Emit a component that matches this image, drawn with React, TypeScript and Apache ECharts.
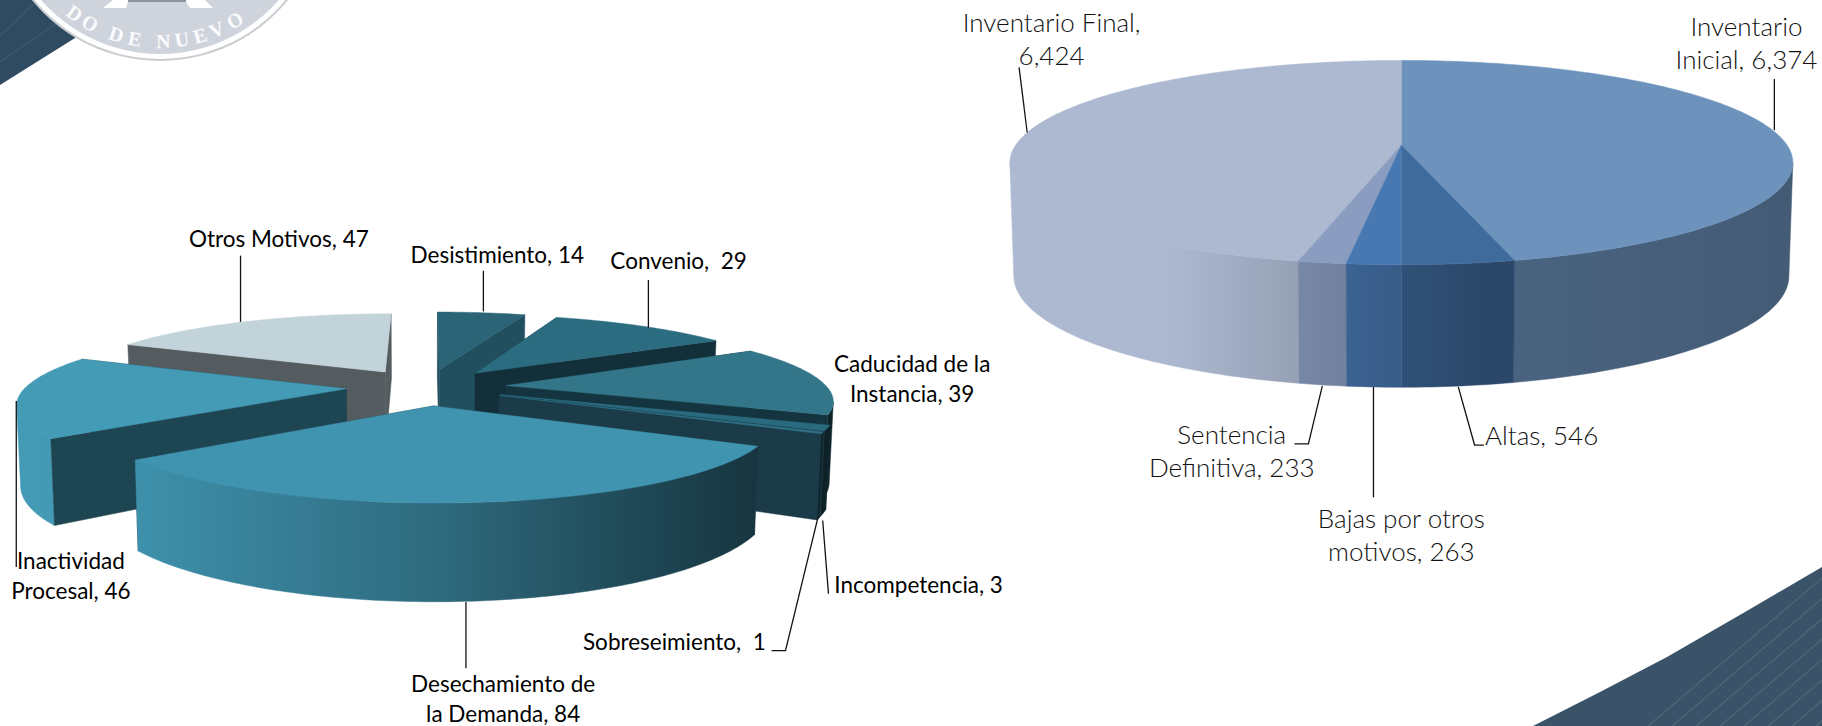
import React, { useEffect, useRef } from "react";
import * as echarts from "echarts";

const W = 1822;
const H = 726;
const S = 1822 / 1568;

// ---- data: left chart
const leftNames = ["Desistimiento", "Convenio", "Caducidad de la\nInstancia", "Incompetencia", "Sobreseimiento", "Desechamiento de\nla Demanda", "Inactividad\nProcesal", "Otros Motivos"];
const leftValues = [14, 29, 39, 3, 1, 84, 46, 47];
const leftTop = ["#2b6477", "#2c6c80", "#337689", "#2a6a7e", "#2f7186", "#4094b0", "#449bb6", "#c3d3da"];
const leftCut = ["#214f5e", "#132f39", "#143540", "#1a3b47", "#1a3b47", "#1b3c48", "#1e4652", "#555c60"];

// ---- data: right chart
const rightNames = ["Inventario\nInicial", "Altas", "Bajas por otros\nmotivos", "Sentencia\nDefinitiva", "Inventario Final"];
const rightValues = [6374, 546, 263, 233, 6424];
const rightTop = ["#6d93bd", "#3f6a9c", "#4878b2", "#8a9dc0", "#adb9d1"];

// ---- styling / layout
const leftPie = { cx: 367 * S, cy: 333 * S, rx: 276 * S, ry: 62.8 * S, k: 0.172, e: 0.25, d: 66.7 * S, p: 1, x0: 12 * S, x1: 720 * S, stops: [[0, 1], [0.15, 0.97], [0.5, 0.73], [0.88, 0.38], [1, 0.3]] };
const rightPie = { cx: 1206 * S, cy: 125 * S, rx: 332 * S, ry: 85.4 * S, k: 0.17, e: 0, d: 96 * S, p: 0.5, x0: 870 * S, x1: 1543 * S, stops: [[0, 1], [0.2, 1], [0.35, 0.88], [0.45, 0.8], [0.6, 0.68], [1, 0.62]] };

const leftFont = { fontFamily: "Lato", fontSize: 22.5, fill: "#000" };
const rightFont = { fontFamily: "Lato", fontWeight: 300, fontSize: 26, fill: "#111" };

function shade(hex: string, f: number) {
  const n = parseInt(hex.slice(1), 16);
  const c = [(n >> 16) & 255, (n >> 8) & 255, n & 255].map((v) => Math.round(v * f));
  return `rgb(${c[0]},${c[1]},${c[2]})`;
}

function buildSlices(values: number[]) {
  const total = values.reduce((a, b) => a + b, 0);
  let acc = 0;
  const out = values.map((v, i) => {
    const a = (acc / total) * 360;
    acc += v;
    const b = (acc / total) * 360;
    return { i, v, a, b, mid: (a + b) / 2 };
  });
  return out.sort((p, q) => -Math.cos((p.mid * Math.PI) / 180) + Math.cos((q.mid * Math.PI) / 180));
}

function pieSeries(values: number[], names: string[], tops: string[], cuts: string[] | null, g: any) {
  const slices = buildSlices(values);
  const total = values.reduce((a, b) => a + b, 0);
  const rad = Math.PI / 180;
  const proj = (u: number, v: number, low: boolean) => {
    const w = 1 - g.k * v;
    if (!low) return [g.cx + (g.rx * u) / w, g.cy + (g.ry * v) / w];
    return [g.cx + ((g.rx * u) / w) * 0.99, g.cy + (g.ry * v) / w + g.d / Math.pow(w, g.p)];
  };
  return {
    type: "custom",
    coordinateSystem: "none",
    silent: true,
    z: 2,
    data: slices.map((s) => ({ name: names[s.i], value: [s.v, s.a, s.i] })),
    renderItem: (_params: any, api: any) => {
      const value = api.value(0) as number;
      const a = api.value(1) as number;
      const idx = api.value(2) as number;
      const b = a + (value / total) * 360;
      const mid = ((a + b) / 2) * rad;
      const ou = g.e * Math.sin(mid);
      const ov = -g.e * Math.cos(mid);
      const rimPoint = (t: number, low: boolean) => proj(ou + Math.sin(t * rad), ov - Math.cos(t * rad), low);
      const angles: number[] = [];
      const n = Math.max(2, Math.ceil((b - a) / 1));
      for (let j = 0; j <= n; j++) angles.push(a + ((b - a) * j) / n);

      const top = tops[idx];
      const cut = cuts ? cuts[idx] : top;
      const children: any[] = [];
      const add = (points: number[][], fill: any) =>
        children.push({ type: "polygon", shape: { points }, style: { fill, stroke: fill, lineWidth: 0.5 } });
      const cutFace = (t: number) => add([proj(ou, ov, false), rimPoint(t, false), rimPoint(t, true), proj(ou, ov, true)], cut);

      const startVisible = Math.sin(a * rad) < 0;
      const endVisible = Math.sin(b * rad) > 0;
      if (g.e > 0) {
        if (!startVisible) cutFace(a);
        if (!endVisible) cutFace(b);
      }
      // a rim point shows when its outward normal faces the camera of the perspective
      const front = angles.filter((t) => {
        const u = Math.sin(t * rad);
        const v = -Math.cos(t * rad);
        return v / g.k - 1 - ou * u - ov * v > 0;
      });
      if (front.length > 1) {
        const stops = g.stops.map((st: number[]) => ({ offset: st[0], color: shade(top, st[1]) }));
        const fill = new echarts.graphic.LinearGradient(g.x0, 0, g.x1, 0, stops, true);
        add([...front.map((t) => rimPoint(t, false)), ...front.slice().reverse().map((t) => rimPoint(t, true))], fill);
      }
      if (g.e > 0) {
        if (startVisible) cutFace(a);
        if (endVisible) cutFace(b);
      }
      add([proj(ou, ov, false), ...angles.map((t) => rimPoint(t, false))], top);
      return { type: "group", children };
    },
  };
}

const num = (v: number) => v.toLocaleString("en-US");

function label(text: string, x: number, y: number, font: any, align = "center", lineHeight = 30) {
  return { type: "text", z: 20, x: x * S, y: y * S, style: { text, align, verticalAlign: "middle", lineHeight, ...font } };
}
function leader(pts: number[][]) {
  return { type: "polyline", z: 20, shape: { points: pts.map((p) => [p[0] * S, p[1] * S]) }, style: { stroke: "#111", lineWidth: 1.3, fill: "none" } };
}

function labelElements() {
  const L = (i: number, sep = ", ") => `${leftNames[i]}${sep}${num(leftValues[i])}`;
  const R = (i: number, sep = ", ") => `${rightNames[i]}${sep}${num(rightValues[i])}`;
  return [
    label(L(7), 240, 205, leftFont), leader([[207, 220], [207, 277]]),
    label(L(0), 428, 219, leftFont), leader([[416, 233], [416, 268]]),
    label(L(1, ",  "), 584, 224, leftFont), leader([[558, 241], [558, 282]]),
    label(L(2), 785, 326, leftFont),
    label(L(3), 718, 503, leftFont, "left"), leader([[708, 448], [713, 511]]),
    label(L(4, ",  "), 659, 552, leftFont, "right"), leader([[664, 560], [676, 560], [704, 445]]),
    label(L(5), 433, 601, leftFont), leader([[401, 518], [401, 575]]),
    label(L(6), 61, 495, leftFont), leader([[14, 345], [14, 488]]),
    label(`${rightNames[4]},\n${num(rightValues[4])}`, 905, 33, rightFont, "center", 33), leader([[877, 58], [884, 114]]),
    label(R(0), 1503, 37, rightFont, "center", 33), leader([[1527, 68], [1527, 112]]),
    label(R(3), 1060, 388, rightFont, "center", 33), leader([[1138, 332], [1126, 382], [1114, 382]]),
    label(R(2), 1206, 460, rightFont, "center", 33), leader([[1182, 333], [1182, 428]]),
    label(R(1), 1278, 374, rightFont, "left"), leader([[1255, 333], [1269, 383], [1277, 383]]),
  ];
}

// ---- decoration
const sealLetters = ["D", "O", "D", "E", "N", "U", "E", "V", "O"];
const sealAngles = [36, 28.8, 17.5, 10, -1.3, -8.7, -16, -23, -31];
const bandEdge = [[1533, 726], [1600, 692], [1667, 657], [1745, 612], [1822, 567]];

function edgeY(x: number) {
  for (let i = 1; i < bandEdge.length; i++) {
    const [x0, y0] = bandEdge[i - 1];
    const [x1, y1] = bandEdge[i];
    if (x <= x1) return y0 + ((y1 - y0) * (x - x0)) / (x1 - x0);
  }
  return 567;
}

function decoration() {
  const els: any[] = [];
  const hatch = { stroke: "#4a6479", lineWidth: 1.5 };
  els.push({ type: "polygon", z: 1, shape: { points: [[0, 0], [90, 0], [75, 38], [0, 85]] }, style: { fill: "#2f4b62" } });
  [[0, 36, 38, 0], [0, 62, 70, 14]].forEach(([x1, y1, x2, y2]) =>
    els.push({ type: "line", z: 1, shape: { x1, y1, x2, y2 }, style: { stroke: "#3e5a72", lineWidth: 1.2 } }));
  const cx = 160, cy = -104;
  els.push({ type: "circle", z: 2, shape: { cx, cy, r: 165 }, style: { fill: "#c9cdd2" } });
  els.push({ type: "circle", z: 2, shape: { cx, cy, r: 163 }, style: { fill: "#ffffff" } });
  els.push({ type: "circle", z: 2, shape: { cx, cy, r: 158 }, style: { fill: "#cfd4dc" } });
  els.push({ type: "polygon", z: 3, shape: { points: [[103, 8], [113, 0], [205, 0], [213, 8], [190, 8], [186, 2], [128, 2], [126, 8]] }, style: { fill: "#ffffff" } });
  els.push({ type: "rect", z: 3, shape: { x: 128, y: 0, width: 58, height: 2 }, style: { fill: "#8d949c" } });
  sealLetters.forEach((t, i) => {
    const r = (sealAngles[i] * Math.PI) / 180;
    els.push({
      type: "text", z: 4, x: cx - 145 * Math.sin(r), y: cy + 145 * Math.cos(r), rotation: -r,
      style: { text: t, align: "center", verticalAlign: "middle", fontFamily: "Liberation Serif", fontWeight: "bold", fontSize: 20, fill: "#fbfbfc", shadowColor: "#6f7680", shadowBlur: 1, shadowOffsetX: 1, shadowOffsetY: 1 },
    });
  });
  els.push({ type: "polygon", z: 1, shape: { points: [...bandEdge, [1822, 726]] }, style: { fill: "#3b5368" } });
  for (let x0 = 1648; x0 < 1830; x0 += 24) {
    let x = x0;
    let y = 726;
    while (x < 1822 && y - 0.85 > edgeY(x + 1) + 10) {
      x += 1;
      y -= 0.85;
    }
    els.push({ type: "line", z: 1, shape: { x1: x0, y1: 726, x2: x, y2: y }, style: hatch });
  }
  return els;
}

export default function App() {
  const ref = useRef<HTMLDivElement | null>(null);
  useEffect(() => {
    document.body.style.margin = "0";
    document.body.style.overflow = "hidden";
    document.body.style.background = "#fff";
    const chart = echarts.init(ref.current as HTMLDivElement, undefined, { renderer: "svg" });
    chart.setOption({
      animation: false,
      backgroundColor: "#ffffff",
      graphic: { elements: [...decoration(), ...labelElements()] },
      series: [
        pieSeries(leftValues, leftNames, leftTop, leftCut, leftPie),
        pieSeries(rightValues, rightNames, rightTop, null, rightPie),
      ],
    });
    return () => chart.dispose();
  }, []);
  return <div ref={ref} style={{ width: W, height: H }} />;
}
